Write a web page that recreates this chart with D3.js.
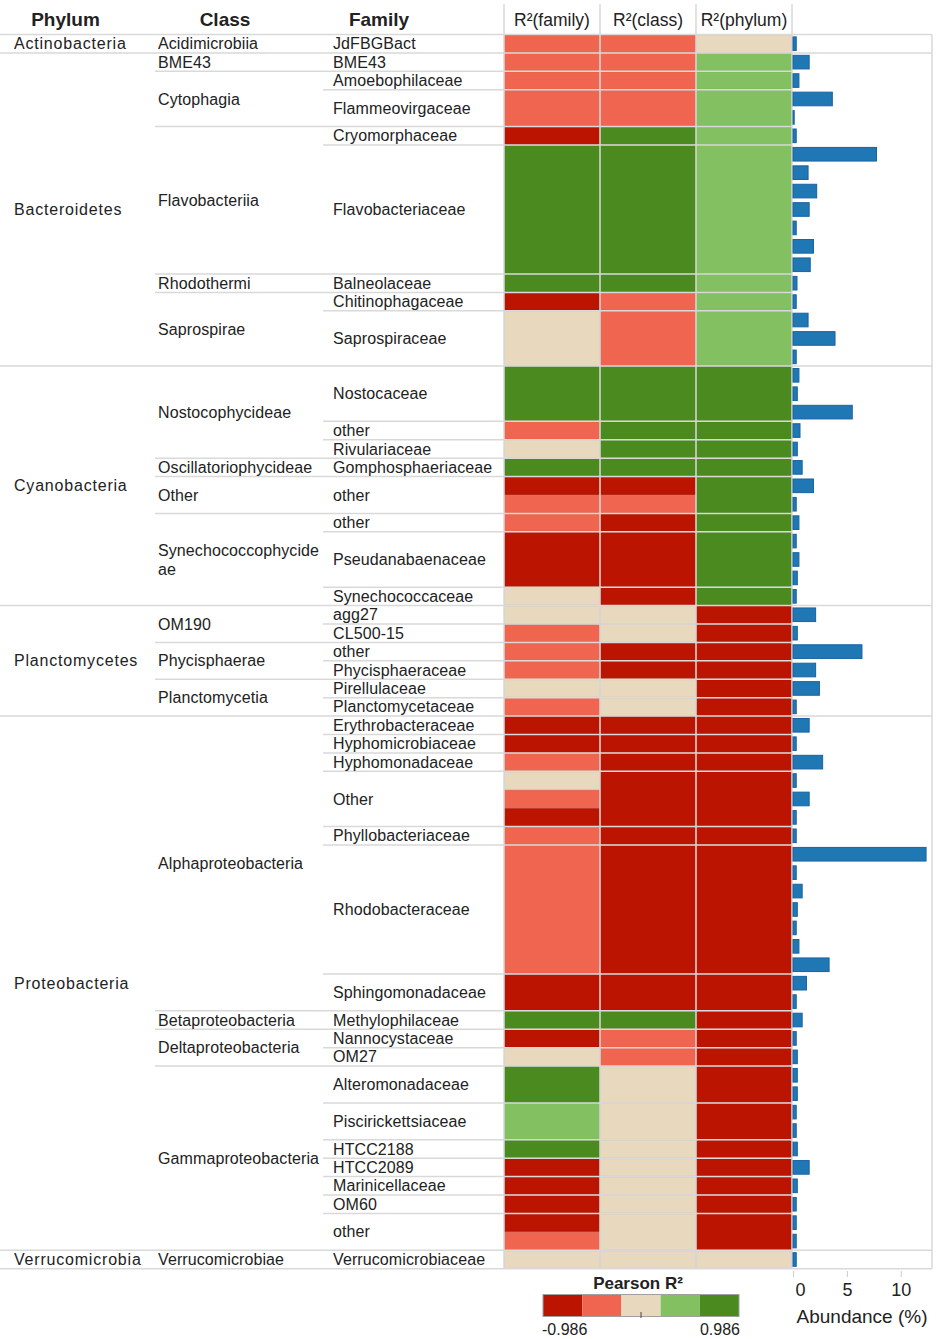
<!DOCTYPE html>
<html>
<head>
<meta charset="utf-8">
<script src="https://cdn.jsdelivr.net/npm/d3@7"></script>
<style>
body { margin: 0; background: #fff; }
text { font-family: "Liberation Sans", Arial, sans-serif; fill: #222; }
</style>
</head>
<body>
<div id="chart"></div>
<script>
// family groups, top to bottom (one entry per family block)
var families = ["JdFBGBact", "BME43", "Amoebophilaceae", "Flammeovirgaceae", "Cryomorphaceae",
    "Flavobacteriaceae", "Balneolaceae", "Chitinophagaceae", "Saprospiraceae",
    "Nostocaceae", "other", "Rivulariaceae", "Gomphosphaeriaceae", "other", "other",
    "Pseudanabaenaceae", "Synechococcaceae",
    "agg27", "CL500-15", "other", "Phycisphaeraceae", "Pirellulaceae", "Planctomycetaceae",
    "Erythrobacteraceae", "Hyphomicrobiaceae", "Hyphomonadaceae", "Other", "Phyllobacteriaceae",
    "Rhodobacteraceae", "Sphingomonadaceae", "Methylophilaceae", "Nannocystaceae", "OM27",
    "Alteromonadaceae", "Piscirickettsiaceae", "HTCC2188", "HTCC2089", "Marinicellaceae", "OM60", "other",
    "Verrucomicrobiaceae"];
var familyClass = ["Acidimicrobiia", "BME43", "Cytophagia", "Cytophagia", "Flavobacteriia",
    "Flavobacteriia", "Rhodothermi", "Saprospirae", "Saprospirae",
    "Nostocophycideae", "Nostocophycideae", "Nostocophycideae", "Oscillatoriophycideae", "Other",
    "Synechococcophycideae", "Synechococcophycideae", "Synechococcophycideae",
    "OM190", "OM190", "Phycisphaerae", "Phycisphaerae", "Planctomycetia", "Planctomycetia",
    "Alphaproteobacteria", "Alphaproteobacteria", "Alphaproteobacteria", "Alphaproteobacteria",
    "Alphaproteobacteria", "Alphaproteobacteria", "Alphaproteobacteria", "Betaproteobacteria",
    "Deltaproteobacteria", "Deltaproteobacteria",
    "Gammaproteobacteria", "Gammaproteobacteria", "Gammaproteobacteria", "Gammaproteobacteria",
    "Gammaproteobacteria", "Gammaproteobacteria", "Gammaproteobacteria",
    "Verrucomicrobiae"];
var familyPhylum = ["Actinobacteria", "Bacteroidetes", "Bacteroidetes", "Bacteroidetes", "Bacteroidetes",
    "Bacteroidetes", "Bacteroidetes", "Bacteroidetes", "Bacteroidetes",
    "Cyanobacteria", "Cyanobacteria", "Cyanobacteria", "Cyanobacteria", "Cyanobacteria",
    "Cyanobacteria", "Cyanobacteria", "Cyanobacteria",
    "Planctomycetes", "Planctomycetes", "Planctomycetes", "Planctomycetes", "Planctomycetes", "Planctomycetes",
    "Proteobacteria", "Proteobacteria", "Proteobacteria", "Proteobacteria", "Proteobacteria",
    "Proteobacteria", "Proteobacteria", "Proteobacteria", "Proteobacteria", "Proteobacteria",
    "Proteobacteria", "Proteobacteria", "Proteobacteria", "Proteobacteria", "Proteobacteria",
    "Proteobacteria", "Proteobacteria",
    "Verrucomicrobia"];
var familyRows = [1, 1, 1, 2, 1, 7, 1, 1, 3,
    3, 1, 1, 1, 2, 1, 3, 1,
    1, 1, 1, 1, 1, 1,
    1, 1, 1, 3, 1, 7, 2, 1, 1, 1,
    2, 2, 1, 1, 1, 1, 2,
    1];

// Pearson R per OTU row (binned colours)
var rFamily = [-0.4, -0.4, -0.4, -0.4, -0.4, -0.8, 0.8, 0.8, 0.8, 0.8, 0.8, 0.8, 0.8, 0.8, -0.8, 0, 0, 0,
    0.8, 0.8, 0.8, -0.4, 0, 0.8, -0.8, -0.4, -0.4, -0.8, -0.8, -0.8, 0,
    0, -0.4, -0.4, -0.4, 0, -0.4,
    -0.8, -0.8, -0.4, 0, -0.4, -0.8, -0.4, -0.4, -0.4, -0.4, -0.4, -0.4, -0.4, -0.4, -0.8, -0.8,
    0.8, -0.8, 0, 0.8, 0.8, 0.4, 0.4, 0.8, -0.8, -0.8, -0.8, -0.8, -0.4,
    0];
var rClass = [-0.4, -0.4, -0.4, -0.4, -0.4, 0.8, 0.8, 0.8, 0.8, 0.8, 0.8, 0.8, 0.8, 0.8, -0.4, -0.4, -0.4, -0.4,
    0.8, 0.8, 0.8, 0.8, 0.8, 0.8, -0.8, -0.4, -0.8, -0.8, -0.8, -0.8, -0.8,
    0, 0, -0.8, -0.8, 0, 0,
    -0.8, -0.8, -0.8, -0.8, -0.8, -0.8, -0.8, -0.8, -0.8, -0.8, -0.8, -0.8, -0.8, -0.8, -0.8, -0.8,
    0.8, -0.4, -0.4, 0, 0, 0, 0, 0, 0, 0, 0, 0, 0,
    0];
var rPhylum = [0, 0.4, 0.4, 0.4, 0.4, 0.4, 0.4, 0.4, 0.4, 0.4, 0.4, 0.4, 0.4, 0.4, 0.4, 0.4, 0.4, 0.4,
    0.8, 0.8, 0.8, 0.8, 0.8, 0.8, 0.8, 0.8, 0.8, 0.8, 0.8, 0.8, 0.8,
    -0.8, -0.8, -0.8, -0.8, -0.8, -0.8,
    -0.8, -0.8, -0.8, -0.8, -0.8, -0.8, -0.8, -0.8, -0.8, -0.8, -0.8, -0.8, -0.8, -0.8, -0.8, -0.8,
    -0.8, -0.8, -0.8, -0.8, -0.8, -0.8, -0.8, -0.8, -0.8, -0.8, -0.8, -0.8, -0.8,
    0];
// abundance (%) per OTU row
var abundance = [0.3, 1.5, 0.55, 3.65, 0.05, 0.3, 7.75, 1.4, 2.2, 1.5, 0.3, 1.9, 1.6, 0.37, 0.3, 1.4, 3.9, 0.3,
    0.55, 0.4, 5.5, 0.65, 0.4, 0.85, 1.9, 0.3, 0.55, 0.3, 0.55, 0.4, 0.3,
    2.1, 0.4, 6.4, 2.1, 2.45, 0.3,
    1.5, 0.3, 2.75, 0.3, 1.5, 0.3, 0.3, 12.35, 0.3, 0.85, 0.4, 0.3, 0.55, 3.35, 1.25, 0.3,
    0.85, 0.3, 0.4, 0.4, 0.4, 0.3, 0.3, 0.4, 1.5, 0.4, 0.3, 0.3, 0.3,
    0.3];

var columns = ["R²(family)", "R²(class)", "R²(phylum)"];
var legendColors = ["#bb1401", "#ef6550", "#e8d9be", "#82c062", "#4a8a1f"];
var legendDomain = [-0.986, 0.986];
var xTicks = [0, 5, 10];

var W = 937, H = 1339;
var gridColor = "#d9d9d9";
var nRows = abundance.length;

var svg = d3.select("#chart").append("svg")
    .attr("width", W)
    .attr("height", H);

// scales
var rowY = d3.scaleLinear().domain([0, nRows]).range([34.5, 1268.7]);
var barY = d3.scaleBand().domain(d3.range(nRows)).range([34.5, 1268.7]).paddingInner(0.26).paddingOuter(0.13);
var colX = d3.scaleBand().domain(columns).range([504, 792]);
var color = d3.scaleQuantize().domain(legendDomain).range(legendColors);
var xBar = d3.scaleLinear().domain([0, 12.9]).range([793, 932]);

// build group blocks
var famGroups = [];
var start = 0;
families.forEach(function(f, i) {
    famGroups.push({name: f, cls: familyClass[i], phy: familyPhylum[i], s: start, e: start + familyRows[i]});
    start += familyRows[i];
});

function mergeGroups(keyFn, labelFn) {
    var out = [];
    famGroups.forEach(function(g) {
        var last = out[out.length - 1];
        if (last && last.key == keyFn(g)) last.e = g.e;
        else out.push({key: keyFn(g), name: labelFn(g), s: g.s, e: g.e});
    });
    return out;
}
var classGroups = mergeGroups(function(g) { return g.phy + "|" + g.cls; }, function(g) { return g.cls; });
var phylumGroups = mergeGroups(function(g) { return g.phy; }, function(g) { return g.phy; });

// heatmap blocks: merge consecutive same-colour rows inside each family block
var series = [rFamily, rClass, rPhylum];
var blocks = [];
famGroups.forEach(function(g) {
    series.forEach(function(vals, c) {
        var bs = g.s;
        for (var i = g.s + 1; i <= g.e; i++) {
            if (i == g.e || color(vals[i]) != color(vals[bs])) {
                blocks.push({col: columns[c], s: bs, e: i, v: vals[bs]});
                bs = i;
            }
        }
    });
});

svg.append("g").selectAll("rect")
    .data(blocks)
    .enter()
    .append("rect")
    .attr("x", function(d) { return colX(d.col) + 0.5; })
    .attr("y", function(d) { return rowY(d.s) + 0.5; })
    .attr("width", colX.bandwidth() - 1)
    .attr("height", function(d) { return rowY(d.e) - rowY(d.s) - 1; })
    .attr("fill", function(d) { return color(d.v); })
    .attr("stroke", function(d) { return d3.color(color(d.v)).darker(0.25); })
    .attr("stroke-width", 0.8);

// grid lines
var grid = svg.append("g").attr("stroke", gridColor).attr("stroke-width", 1.5);
var phyBounds = [0].concat(phylumGroups.map(function(g) { return g.e; }));
var clsBounds = classGroups.map(function(g) { return g.e; }).filter(function(b) { return phyBounds.indexOf(b) < 0; });
var famBounds = famGroups.map(function(g) { return g.e; }).filter(function(b) {
    return phyBounds.indexOf(b) < 0 && clsBounds.indexOf(b) < 0;
});

grid.selectAll("line.fam").data(famBounds).enter().append("line")
    .attr("x1", 323).attr("x2", 792)
    .attr("y1", function(d) { return rowY(d); }).attr("y2", function(d) { return rowY(d); });
grid.selectAll("line.cls").data(clsBounds).enter().append("line")
    .attr("x1", 155).attr("x2", 792)
    .attr("y1", function(d) { return rowY(d); }).attr("y2", function(d) { return rowY(d); });
grid.selectAll("line.phy").data(phyBounds).enter().append("line")
    .attr("x1", 0).attr("x2", 932)
    .attr("y1", function(d) { return rowY(d); }).attr("y2", function(d) { return rowY(d); });
grid.selectAll("line.col").data(colX.domain().map(colX).concat([792])).enter().append("line")
    .attr("x1", function(d) { return d; }).attr("x2", function(d) { return d; })
    .attr("y1", 4).attr("y2", rowY(nRows));
grid.append("line")
    .attr("x1", 932).attr("x2", 932)
    .attr("y1", rowY(0)).attr("y2", rowY(nRows));

// abundance bars
svg.append("g").selectAll("rect")
    .data(abundance)
    .enter()
    .append("rect")
    .attr("x", xBar(0))
    .attr("y", function(d, i) { return barY(i); })
    .attr("width", function(d) { return Math.max(xBar(d) - xBar(0), 1.2); })
    .attr("height", barY.bandwidth())
    .attr("fill", "#1f77b4")
    .attr("stroke", "#1a62a3")
    .attr("stroke-width", 1);

// column headers
var heads = [{t: "Phylum", x: 65.5}, {t: "Class", x: 225}, {t: "Family", x: 379}];
svg.selectAll("text.head").data(heads).enter().append("text")
    .attr("x", function(d) { return d.x; })
    .attr("y", 26)
    .attr("text-anchor", "middle")
    .style("font-size", "19px")
    .style("font-weight", "bold")
    .text(function(d) { return d.t; });
svg.selectAll("text.rhead").data(columns).enter().append("text")
    .attr("x", function(d) { return colX(d) + colX.bandwidth() / 2; })
    .attr("y", 26)
    .attr("text-anchor", "middle")
    .style("font-size", "17.5px")
    .text(function(d) { return d; });

// labels
function wrapChars(sel, maxW) {
    sel.each(function() {
        var t = d3.select(this);
        if (this.getComputedTextLength() <= maxW) return;
        var full = t.text(), cy = +t.attr("y"), x = t.attr("x");
        var lines = [], cur = "";
        t.text(null);
        var probe = t.append("tspan");
        for (var k = 0; k < full.length; k++) {
            var ch = full[k];
            probe.text(cur + ch);
            if (probe.node().getComputedTextLength() > maxW && cur) { lines.push(cur); cur = ch; }
            else cur += ch;
        }
        lines.push(cur);
        probe.remove();
        t.attr("dy", null);
        lines.forEach(function(l, i) {
            t.append("tspan")
                .attr("x", x)
                .attr("y", cy + (i - (lines.length - 1) / 2) * 19)
                .attr("dy", "0.35em")
                .text(l);
        });
    });
}

function labels(groups, x, spacing) {
    return svg.append("g").selectAll("text")
        .data(groups)
        .enter()
        .append("text")
        .attr("x", x)
        .attr("y", function(d) { return (rowY(d.s) + rowY(d.e)) / 2; })
        .attr("dy", "0.35em")
        .style("font-size", "16px")
        .style("letter-spacing", spacing + "px")
        .text(function(d) { return d.name; });
}
labels(phylumGroups, 14, 0.8);
labels(classGroups, 158, 0.1).call(wrapChars, 165);
labels(famGroups, 333, 0.1);

// abundance axis
var axis = svg.append("g")
    .attr("transform", "translate(0," + 1271 + ")")
    .call(d3.axisBottom(xBar).tickValues(xTicks).tickSize(6).tickSizeOuter(0));
axis.select(".domain").remove();
axis.selectAll(".tick line").attr("stroke", "#ccc");
axis.selectAll(".tick text")
    .attr("y", 12)
    .attr("dx", function(d) { return d == 0 ? 7 : 0; })
    .style("font-size", "18px")
    .style("font-family", "'Liberation Sans', Arial, sans-serif")
    .attr("fill", "#222");
svg.append("text")
    .attr("x", 862)
    .attr("y", 1323)
    .attr("text-anchor", "middle")
    .style("font-size", "19px")
    .text("Abundance (%)");

// legend
var legX = d3.scaleBand().domain(d3.range(legendColors.length)).range([543, 739]);
var leg = svg.append("g");
leg.append("text")
    .attr("x", 638)
    .attr("y", 1289)
    .attr("text-anchor", "middle")
    .style("font-size", "17px")
    .style("font-weight", "bold")
    .text("Pearson R²");
leg.selectAll("rect.sw").data(legendColors).enter().append("rect")
    .attr("x", function(d, i) { return legX(i); })
    .attr("y", 1294.5)
    .attr("width", legX.bandwidth())
    .attr("height", 22)
    .attr("fill", function(d) { return d; });
leg.append("rect")
    .attr("x", 543).attr("y", 1294.5)
    .attr("width", 196).attr("height", 22)
    .attr("fill", "none")
    .attr("stroke", "#a0a0a0");
leg.append("line")
    .attr("x1", 641).attr("x2", 641)
    .attr("y1", 1312).attr("y2", 1318)
    .attr("stroke", "#444");
leg.append("text")
    .attr("x", 542).attr("y", 1335)
    .style("font-size", "16px")
    .text(legendDomain[0].toFixed(3));
leg.append("text")
    .attr("x", 740).attr("y", 1335)
    .attr("text-anchor", "end")
    .style("font-size", "16px")
    .text(legendDomain[1].toFixed(3));
</script>
</body>
</html>
